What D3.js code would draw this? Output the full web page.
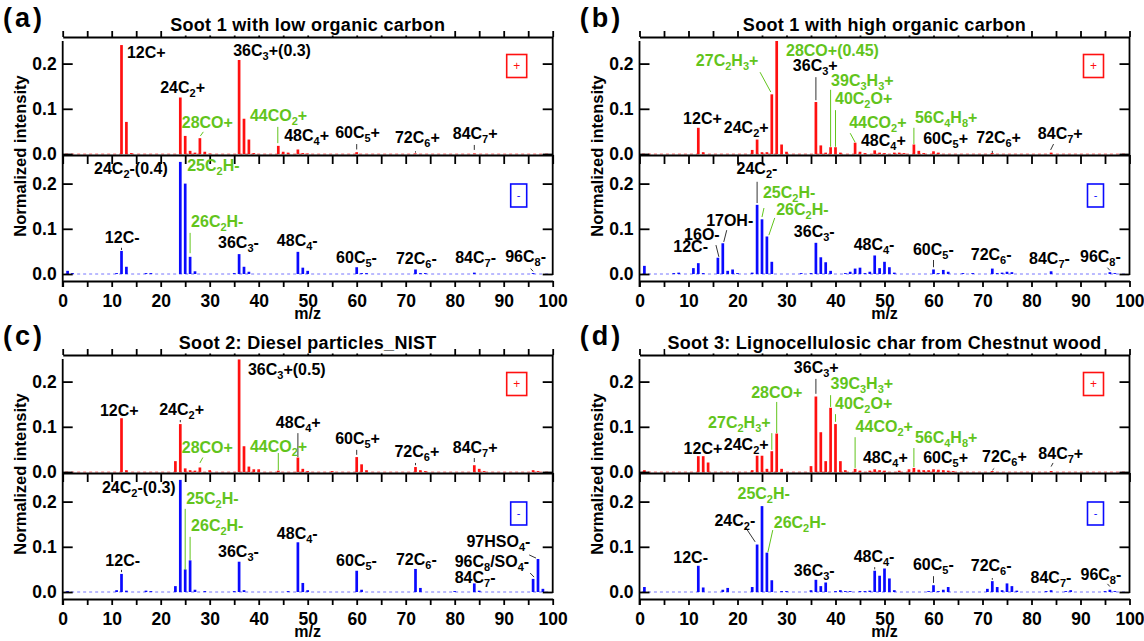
<!DOCTYPE html>
<html><head><meta charset="utf-8">
<script src="https://cdn.jsdelivr.net/npm/d3@7"></script>
<style>
body{margin:0;background:#fff;}
svg{display:block;font-family:"Liberation Sans",Arial,sans-serif;font-weight:bold;}
</style></head><body>
<svg id="chart" width="1144" height="641"></svg>
<script>
// ---------------- DATA ----------------
const xTicks = [0,10,20,30,40,50,60,70,80,90,100];
const xMinorTicks = [5,15,25,35,45,55,65,75,85,95];
const yTicks = [0,0.1,0.2];
const panelLetters = ["(a)","(b)","(c)","(d)"];
const titles = ["Soot 1 with low organic carbon","Soot 1 with high organic carbon",
  "Soot 2: Diesel particles_NIST","Soot 3: Lignocellulosic char from Chestnut wood"];

// [m/z, normalized intensity]  (positive = red, negative = blue)
const aPos = [[12,0.241],[13,0.071],[14,0.002],[24,0.125],[25,0.040],[26,0.007],[27,0.003],[28,0.035],[29,0.005],[30,0.001],[36,0.208],[37,0.078],[38,0.032],[39,0.002],[44,0.018],[45,0.005],[46,0.003],[48,0.010],[49,0.002],[50,0.001],[60,0.004],[72,0.001],[84,0.001]];
const aNeg = [[1,0.007],[2,0.002],[11,0.002],[12,0.051],[13,0.016],[17,0.002],[18,0.002],[24,0.248],[25,0.200],[26,0.038],[27,0.006],[35,0.002],[36,0.044],[37,0.016],[38,0.005],[48,0.049],[49,0.014],[50,0.007],[60,0.015],[61,0.002],[62,0.002],[72,0.010],[73,0.002],[74,0.002],[84,0.003],[96,0.002]];
const bPos = [[12,0.058],[13,0.004],[23,0.009],[24,0.032],[25,0.004],[26,0.004],[27,0.132],[28,0.250],[29,0.021],[30,0.005],[36,0.115],[37,0.019],[38,0.003],[39,0.015],[40,0.015],[41,0.003],[44,0.025],[45,0.005],[46,0.002],[48,0.008],[49,0.003],[50,0.002],[52,0.003],[53,0.003],[54,0.002],[56,0.021],[57,0.007],[58,0.002],[60,0.006],[61,0.003],[72,0.002],[84,0.003]];
const bNeg = [[1,0.018],[7,0.002],[8,0.003],[11,0.013],[12,0.024],[13,0.002],[16,0.036],[17,0.068],[18,0.007],[19,0.010],[20,0.002],[23,0.003],[24,0.153],[25,0.121],[26,0.083],[27,0.027],[33,0.002],[35,0.002],[36,0.069],[37,0.037],[38,0.026],[39,0.007],[42,0.002],[43,0.005],[44,0.012],[45,0.014],[46,0.002],[47,0.005],[48,0.041],[49,0.013],[50,0.027],[51,0.015],[52,0.003],[60,0.010],[61,0.002],[62,0.009],[63,0.005],[66,0.002],[68,0.002],[72,0.012],[73,0.002],[74,0.003],[75,0.005],[76,0.004],[84,0.006],[96,0.004],[97,0.002]];
const cPos = [[12,0.119],[13,0.004],[23,0.024],[24,0.106],[25,0.008],[26,0.004],[27,0.003],[28,0.010],[30,0.004],[36,0.249],[37,0.057],[38,0.012],[39,0.006],[40,0.006],[44,0.003],[48,0.032],[49,0.007],[50,0.002],[55,0.002],[60,0.033],[61,0.017],[62,0.004],[72,0.011],[73,0.004],[74,0.002],[84,0.015],[85,0.007],[86,0.002],[96,0.004],[97,0.002]];
const cNeg = [[1,0.002],[11,0.004],[12,0.040],[13,0.003],[17,0.003],[18,0.002],[23,0.013],[24,0.248],[25,0.050],[26,0.070],[27,0.005],[29,0.002],[35,0.002],[36,0.067],[37,0.004],[46,0.002],[48,0.110],[49,0.020],[50,0.004],[60,0.047],[61,0.005],[72,0.051],[73,0.009],[80,0.002],[84,0.019],[85,0.003],[96,0.029],[97,0.073],[98,0.007]];
const dPos = [[1,0.004],[12,0.035],[13,0.035],[14,0.021],[23,0.004],[24,0.036],[25,0.036],[26,0.007],[27,0.046],[28,0.085],[29,0.007],[35,0.013],[36,0.167],[37,0.088],[38,0.024],[39,0.142],[40,0.106],[41,0.024],[42,0.004],[44,0.007],[45,0.003],[47,0.003],[48,0.006],[49,0.004],[50,0.003],[53,0.003],[55,0.006],[56,0.009],[57,0.005],[58,0.004],[59,0.004],[60,0.006],[61,0.005],[62,0.004],[63,0.003],[64,0.002],[72,0.002],[84,0.002]];
const dNeg = [[1,0.011],[12,0.058],[13,0.010],[17,0.005],[18,0.009],[23,0.011],[24,0.105],[25,0.190],[26,0.087],[27,0.026],[29,0.002],[30,0.002],[35,0.004],[36,0.027],[37,0.013],[38,0.021],[40,0.002],[41,0.004],[42,0.002],[43,0.002],[45,0.002],[46,0.002],[47,0.003],[48,0.047],[49,0.036],[50,0.052],[51,0.030],[52,0.004],[59,0.002],[60,0.015],[61,0.002],[62,0.005],[63,0.011],[71,0.007],[72,0.024],[73,0.011],[74,0.004],[75,0.019],[76,0.013],[77,0.003],[83,0.002],[84,0.004],[87,0.002],[88,0.004],[95,0.002],[96,0.005],[97,0.002]];

// peak annotations: [text ("_n" = subscript), m/z of left edge, intensity of text centre, kind ("c" carbon / "o" organic), optional leader [mz1,v1,mz2,v2]]
const aPosLab = [["12C+",13.1,0.226,"c"],["24C_2+",19.9,0.148,"c"],["28CO+",24.3,0.071,"o",[28.1,0.040,28.7,0.049]],["36C_3+(0.3)",34.8,0.230,"c"],["44CO_2+",38.2,0.086,"o",[43.9,0.060,43.9,0.024]],["48C_4+",45.2,0.042,"c"],["60C_5+",55.6,0.049,"c",[60,0.022,60,0.010]],["72C_6+",67.8,0.038,"c",[72,0.006,72,0.003]],["84C_7+",79.6,0.046,"c",[84,0.020,84,0.009]]];
const aNegLab = [["24C_2-(0.4)",6.4,0.235,"c"],["25C_2H-",25.4,0.241,"o"],["26C_2H-",26.2,0.117,"o",[26,0.091,26,0.046]],["12C-",8.6,0.082,"c",[12,0.058,12,0.053]],["36C_3-",31.7,0.071,"c"],["48C_4-",43.7,0.075,"c"],["60C_5-",55.8,0.038,"c"],["72C_6-",68.0,0.035,"c"],["84C_7-",80.1,0.038,"c"],["96C_8-",90.3,0.040,"c",[95.5,0.012,96,0.006]]];
const bPosLab = [["28CO+(0.45)",29.9,0.230,"o"],["27C_2H_3+",11.5,0.208,"o",[24.6,0.181,26.8,0.137]],["36C_3+",31.3,0.197,"c",[36,0.170,36,0.119]],["39C_3H_3+",39.1,0.164,"o",[39,0.142,39,0.016]],["40C_2O+",39.9,0.124,"o",[40,0.097,40,0.016]],["44CO_2+",42.8,0.071,"o",[43.0,0.046,44.0,0.026]],["56C_4H_8+",56.2,0.082,"o",[56,0.058,56,0.022]],["12C+",8.9,0.080,"c"],["24C_2+",17.2,0.060,"c"],["48C_4+",45.2,0.031,"c"],["60C_5+",57.9,0.035,"c"],["72C_6+",68.7,0.038,"c",[72,0.007,72,0.002]],["84C_7+",81.3,0.046,"c",[83.9,0.009,84.5,0.022]]];
const bNegLab = [["24C_2-",19.8,0.235,"c",[24,0.204,24,0.157]],["25C_2H-",25.2,0.181,"o",[25.4,0.146,25.0,0.126]],["26C_2H-",27.9,0.144,"o",[27.6,0.124,26.4,0.086]],["17OH-",13.6,0.119,"c",[17.8,0.097,17.2,0.071]],["16O-",9.1,0.088,"c",[15.6,0.064,16.2,0.038]],["12C-",6.9,0.062,"c"],["36C_3-",31.5,0.095,"c"],["48C_4-",43.7,0.066,"c"],["60C_5-",55.8,0.055,"c",[60,0.031,60,0.015]],["72C_6-",67.6,0.044,"c"],["84C_7-",79.5,0.035,"c"],["96C_8-",89.9,0.040,"c",[95.5,0.014,96,0.008]]];
const cPosLab = [["12C+",7.6,0.137,"c"],["24C_2+",19.7,0.139,"c",[24,0.115,24,0.110]],["28CO+",24.3,0.055,"o",[28.0,0.020,28.6,0.032]],["36C_3+(0.5)",37.8,0.228,"c"],["48C_4+",43.5,0.111,"c",[48,0.086,48,0.033]],["44CO_2+",38.2,0.058,"o",[44,0.042,44,0.004]],["60C_5+",55.6,0.075,"c",[60,0.049,60,0.038]],["72C_6+",67.7,0.046,"c",[72,0.020,72,0.015]],["84C_7+",79.6,0.055,"c",[84,0.031,84,0.022]]];
const cNegLab = [["24C_2-(0.3)",8.0,0.232,"c"],["25C_2H-",25.2,0.208,"o",[25,0.184,25,0.049]],["26C_2H-",26.2,0.148,"o",[26,0.122,26,0.071]],["12C-",8.7,0.071,"c",[12,0.049,12,0.044]],["36C_3-",31.7,0.091,"c"],["48C_4-",43.7,0.131,"c"],["60C_5-",55.8,0.071,"c"],["72C_6-",68.0,0.073,"c"],["97HSO_4-",82.4,0.113,"c",[95.2,0.082,96.6,0.075]],["96C_8/SO_4-",80.0,0.069,"c",[95.4,0.042,96.2,0.033]],["84C_7-",80.0,0.033,"c"]];
const dPosLab = [["36C_3+",31.5,0.232,"c",[36,0.206,36,0.173]],["39C_3H_3+",39.0,0.197,"o",[39,0.170,39,0.144]],["28CO+",22.8,0.177,"o",[28,0.155,28,0.086]],["40C_2O+",39.9,0.153,"o",[40,0.128,40,0.111]],["27C_2H_3+",14.0,0.111,"o",[27,0.086,27,0.049]],["44CO_2+",44.1,0.102,"o",[44,0.077,44,0.009]],["56C_4H_8+",56.2,0.077,"o",[56,0.053,56,0.011]],["12C+",9.0,0.053,"c"],["24C_2+",17.2,0.062,"c"],["48C_4+",45.6,0.033,"c"],["60C_5+",57.9,0.033,"c"],["72C_6+",69.9,0.035,"c",[72.0,0.004,72.4,0.008]],["84C_7+",81.4,0.042,"c",[84,0.012,84.4,0.020]]];
const dNegLab = [["25C_2H-",20.0,0.219,"o"],["24C_2-",15.3,0.159,"c",[21.7,0.142,23.6,0.111]],["26C_2H-",27.4,0.155,"o",[27.2,0.137,26.2,0.088]],["12C-",6.9,0.077,"c"],["36C_3-",31.5,0.049,"c"],["48C_4-",43.7,0.080,"c",[48,0.055,48,0.050]],["60C_5-",55.8,0.062,"c",[60,0.035,60,0.020]],["72C_6-",67.6,0.060,"c",[72,0.031,72,0.027]],["84C_7-",79.8,0.033,"c"],["96C_8-",90.0,0.040,"c",[95.5,0.018,96,0.012]]];

// ---------------- LAYOUT / STYLE ----------------
const COL_DX = 576.8, ROW_DY = 318;
const L = 62.7, R = 552.7;
const TOP_T = 41, TOP_B = 154, BOT_T = 156, BOT_B = 274, XAX_Y = 281;
const PX_PER_UNIT = (TOP_B - TOP_T) / 0.25;
const RED = "#ff1010", BLUE = "#0a0aff", GREEN = "#62c41c";
const AXW = 1.8;

const svg = d3.select("#chart");
const panels = [
  {pos:aPos, neg:aNeg, posLab:aPosLab, negLab:aNegLab},
  {pos:bPos, neg:bNeg, posLab:bPosLab, negLab:bNegLab},
  {pos:cPos, neg:cNeg, posLab:cPosLab, negLab:cNegLab},
  {pos:dPos, neg:dNeg, posLab:dPosLab, negLab:dNegLab}
];

function rich(sel, str, subSize) {
  const parts = str.split(/_(\d)/);
  let shifted = false;
  parts.forEach((p, i) => {
    if (p === "") return;
    const sub = i % 2 === 1;
    const t = sel.append("tspan").text(p);
    if (sub) { t.attr("font-size", subSize).attr("dy", 4); shifted = true; }
    else if (shifted) { t.attr("dy", -4); shifted = false; }
  });
}

panels.forEach((P, idx) => {
  const ox = (idx % 2) * COL_DX, oy = Math.floor(idx / 2) * ROW_DY;
  const g = svg.append("g").attr("transform", `translate(${ox},${oy})`);
  const xs = d3.scaleLinear().domain([0,100]).range([L, R]);
  const yT = d3.scaleLinear().domain([0,0.25]).range([TOP_B, TOP_T]);
  const yB = d3.scaleLinear().domain([0,(BOT_B-BOT_T)/PX_PER_UNIT]).range([BOT_B, BOT_T]);
  const bw = xs(0.55) - xs(0);

  // baselines (dashed)
  [[yT, "#ff7070"], [yB, "#7777ff"]].forEach(([ys, lc]) => {
    g.append("line").attr("x1", xs(0.5)).attr("x2", xs(99.5)).attr("y1", ys(0)).attr("y2", ys(0))
      .attr("stroke", lc).attr("stroke-width", 1).attr("stroke-dasharray", "3,3");
  });

  // bars
  [[P.pos, yT, RED], [P.neg, yB, BLUE]].forEach(([data, ys, c]) => {
    g.append("g").selectAll("rect").data(data).join("rect")
      .attr("x", d => xs(d[0]) - bw/2).attr("width", bw)
      .attr("y", d => ys(d[1])).attr("height", d => ys(0) - ys(d[1]))
      .attr("fill", c);
  });

  // y axes
  [yT, yB].forEach(ys => {
    const la = g.append("g").attr("transform", `translate(${L},0)`)
      .call(d3.axisLeft(ys).tickValues(yTicks).tickSize(-10).tickSizeOuter(0).tickPadding(6).tickFormat(d3.format(".1f")));
    la.select(".domain").remove();
    la.selectAll("line").attr("stroke-width", AXW);
    la.selectAll("text").attr("font-size", 17.5).attr("font-weight", "bold").attr("font-family", "Liberation Sans, Arial, sans-serif").attr("fill", "#000");
    const ra = g.append("g").attr("transform", `translate(${R},0)`)
      .call(d3.axisRight(ys).tickValues(yTicks).tickSize(-10).tickSizeOuter(0).tickFormat(""));
    ra.select(".domain").remove();
    ra.selectAll("line").attr("stroke-width", AXW);
  });
  g.append("line").attr("x1", L).attr("x2", L).attr("y1", TOP_T).attr("y2", XAX_Y + 6).attr("stroke", "#000").attr("stroke-width", AXW);
  g.append("line").attr("x1", R).attr("x2", R).attr("y1", TOP_T - 4).attr("y2", BOT_B + 1).attr("stroke", "#000").attr("stroke-width", AXW);

  // horizontal axes: top (ticks up), middle (ticks down), bottom (labels)
  const allT = xTicks.concat(xMinorTicks);
  const topA = g.append("g").attr("transform", `translate(0,${TOP_T - 4})`)
    .call(d3.axisTop(xs).tickValues(allT).tickSize(6).tickSizeOuter(0).tickFormat(""));
  const midA = g.append("g").attr("transform", `translate(0,${BOT_T - 1})`)
    .call(d3.axisBottom(xs).tickValues(allT).tickSize(9).tickSizeOuter(0).tickFormat(""));
  const botA = g.append("g").attr("transform", `translate(0,${XAX_Y})`)
    .call(d3.axisBottom(xs).tickValues(xTicks).tickSize(6).tickSizeOuter(0).tickPadding(8).tickFormat(d3.format("d")));
  const botM = g.append("g").attr("transform", `translate(0,${XAX_Y})`)
    .call(d3.axisBottom(xs).tickValues(xMinorTicks).tickSize(6).tickSizeOuter(0).tickFormat(""));
  botM.select(".domain").remove();
  [topA, midA, botA, botM].forEach(a => {
    a.selectAll("line, path").attr("stroke-width", AXW).attr("stroke", "#000");
  });
  botA.selectAll("text").attr("font-size", 17.5).attr("font-weight", "bold").attr("font-family", "Liberation Sans, Arial, sans-serif").attr("fill", "#000");

  // polarity boxes
  g.append("rect").attr("x", R - 46).attr("y", TOP_T + 13.5).attr("width", 20).attr("height", 23)
    .attr("fill", "none").attr("stroke", RED).attr("stroke-width", 1.6);
  g.append("text").attr("x", R - 36).attr("y", TOP_T + 29).attr("text-anchor", "middle")
    .attr("font-size", 12).attr("font-weight", "normal").attr("fill", RED).text("+");
  g.append("rect").attr("x", R - 42).attr("y", BOT_T + 28).attr("width", 16).attr("height", 23)
    .attr("fill", "none").attr("stroke", BLUE).attr("stroke-width", 1.6);
  g.append("text").attr("x", R - 34).attr("y", BOT_T + 43).attr("text-anchor", "middle")
    .attr("font-size", 11).attr("font-weight", "normal").attr("fill", BLUE).text("-");

  // annotations
  [[P.posLab, yT], [P.negLab, yB]].forEach(([labs, ys]) => {
    labs.forEach(l => {
      const col = l[3] === "o" ? GREEN : "#000";
      if (l[4]) {
        const q = l[4];
        g.append("line").attr("x1", xs(q[0])).attr("y1", ys(q[1])).attr("x2", xs(q[2])).attr("y2", ys(q[3]))
          .attr("stroke", l[3] === "o" ? GREEN : "#333").attr("stroke-width", 1);
      }
      const t = g.append("text").attr("x", xs(l[1])).attr("y", ys(l[2]) + 5.8)
        .attr("font-size", 16).attr("fill", col);
      rich(t, l[0], 11);
    });
  });

  // title with white backing that hides the top-axis ticks beneath it
  const titleBg = g.append("rect").attr("fill", "#fff");
  const title = g.append("text").attr("x", (L + R) / 2).attr("y", 31).attr("text-anchor", "middle")
    .attr("font-size", 18).attr("letter-spacing", 0.3).text(titles[idx]);
  const bb = title.node().getBBox();
  titleBg.attr("x", bb.x - 2).attr("y", bb.y).attr("width", bb.width + 4).attr("height", (TOP_T - 5.5) - bb.y);

  g.append("text").attr("x", 3).attr("y", 27).attr("font-size", 27).attr("letter-spacing", 3).text(panelLetters[idx]);
  g.append("text").attr("transform", `translate(20,${(TOP_T + XAX_Y) / 2 - 5}) rotate(-90)`)
    .attr("text-anchor", "middle").attr("dominant-baseline", "central").attr("font-size", 16.5).text("Normalized intensity");
  g.append("text").attr("x", (L + R) / 2).attr("y", 318.5).attr("text-anchor", "middle").attr("font-size", 16).text("m/z");
});
</script>
</body></html>
